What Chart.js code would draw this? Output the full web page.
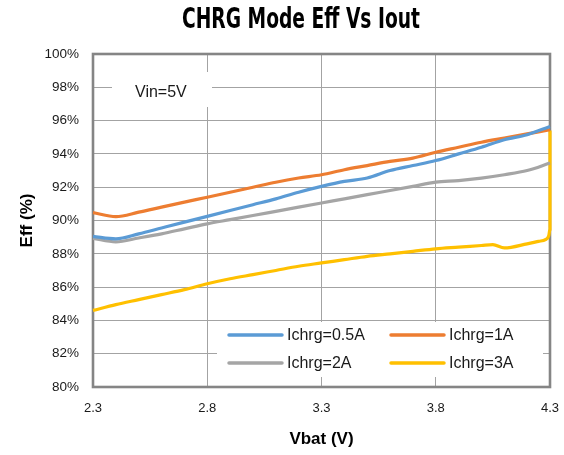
<!DOCTYPE html>
<html><head><meta charset="utf-8">
<script src="https://cdn.jsdelivr.net/npm/chart.js@4.4.1/dist/chart.umd.min.js"></script>
<style>html,body{margin:0;padding:0;background:#fff;overflow:hidden}#wrap{width:564px;height:455px;position:relative}</style>
</head><body><div id="wrap"><canvas id="c" width="564" height="455"></canvas></div>
<script>
const chartTitle = 'CHRG Mode Eff Vs Iout';
const xTitle = 'Vbat (V)';
const yTitle = 'Eff (%)';
const noteText = 'Vin=5V';
const seriesNames = ['Ichrg=0.5A', 'Ichrg=1A', 'Ichrg=2A', 'Ichrg=3A'];
const seriesColors = ['#5B9BD5', '#ED7D31', '#A5A5A5', '#FFC000'];
const xTicks = [2.3, 2.8, 3.3, 3.8, 4.3];

const vbat = [2.3, 2.4, 2.5, 2.6, 2.7, 2.8, 2.9, 3.0, 3.1, 3.2, 3.3, 3.4, 3.5, 3.6, 3.7, 3.8, 3.9, 4.0, 4.1, 4.2, 4.3];
const eff05 = [89.05, 88.9, 89.2, 89.55, 89.9, 90.25, 90.6, 90.95, 91.3, 91.7, 92.05, 92.35, 92.55, 93.0, 93.3, 93.6, 94.0, 94.4, 94.85, 95.15, 95.65];
const eff1 = [90.47, 90.23, 90.5, 90.8, 91.1, 91.4, 91.7, 92.0, 92.3, 92.55, 92.75, 93.05, 93.3, 93.55, 93.75, 94.1, 94.4, 94.7, 94.95, 95.2, 95.45];
const eff2 = [88.93, 88.72, 88.95, 89.2, 89.5, 89.8, 90.05, 90.3, 90.55, 90.8, 91.05, 91.3, 91.55, 91.8, 92.05, 92.3, 92.4, 92.55, 92.75, 93.0, 93.45];
const vbat3 = [2.3, 2.4, 2.5, 2.6, 2.7, 2.8, 2.9, 3.0, 3.1, 3.2, 3.3, 3.4, 3.5, 3.6, 3.7, 3.8, 3.9, 4.0, 4.05, 4.1, 4.2, 4.25, 4.28, 4.295, 4.3, 4.3];
const eff3 = [84.6, 84.95, 85.25, 85.55, 85.85, 86.2, 86.5, 86.75, 87.0, 87.25, 87.45, 87.65, 87.85, 88.0, 88.15, 88.3, 88.4, 88.5, 88.55, 88.35, 88.6, 88.75, 88.85, 89.1, 89.5, 95.4];

const toPts = (xs, ys) => xs.map((x, i) => ({x: x, y: ys[i]}));
const seriesData = [toPts(vbat, eff05), toPts(vbat, eff1), toPts(vbat, eff2), toPts(vbat3, eff3)];

const decor = {
  id: 'decor',
  beforeDatasetsDraw(chart) {
    const {ctx, chartArea: a} = chart;
    ctx.save();
    // plot border
    ctx.strokeStyle = '#858585';
    ctx.lineWidth = 2.6;
    ctx.strokeRect(a.left, a.top, a.right - a.left, a.bottom - a.top);
    // note box
    ctx.fillStyle = '#fff';
    ctx.fillRect(a.left + 19, a.top + 18, 100, 35);
    ctx.fillStyle = '#1a1a1a';
    ctx.font = '16px "Liberation Sans"';
    ctx.textBaseline = 'middle';
    ctx.textAlign = 'left';
    ctx.fillText(noteText, a.left + 42, a.top + 39);
    // legend
    const lx = a.left + 124, ly = a.top + 268;
    ctx.fillStyle = '#fff';
    ctx.fillRect(lx, ly, 326, 55);
    const cols = [12, 174], rows = [13, 41];
    chart.data.datasets.forEach((ds, i) => {
      const cx = lx + cols[i % 2], cy = ly + rows[Math.floor(i / 2)];
      ctx.strokeStyle = ds.borderColor;
      ctx.lineWidth = 3.5;
      ctx.lineCap = 'round';
      ctx.beginPath(); ctx.moveTo(cx, cy); ctx.lineTo(cx + 53, cy); ctx.stroke();
      ctx.fillStyle = '#1a1a1a';
      ctx.font = '16px "Liberation Sans"';
      ctx.fillText(ds.label, cx + 58, cy + 1);
    });
    ctx.restore();
  },
  afterDraw(chart) {
    const {ctx} = chart;
    ctx.save();
    ctx.fillStyle = '#000';
    ctx.font = 'bold 29px "DejaVu Sans Condensed", "DejaVu Sans", "Liberation Sans"';
    ctx.textAlign = 'center';
    ctx.textBaseline = 'middle';
    ctx.fillText(chartTitle, 301, 20, 238);
    ctx.restore();
  }
};

new Chart(document.getElementById('c'), {
  type: 'line',
  data: {
    datasets: seriesNames.map((n, i) => ({
      label: n,
      data: seriesData[i],
      borderColor: seriesColors[i],
      backgroundColor: seriesColors[i],
      borderWidth: 3.2,
      pointRadius: 0,
      tension: 0.3,
      cubicInterpolationMode: 'monotone',
      clip: 6,
      fill: false
    }))
  },
  options: {
    responsive: false,
    animation: false,
    devicePixelRatio: 1,
    layout: {padding: {top: 54, right: 14, bottom: 0, left: 0}},
    plugins: {legend: {display: false}, title: {display: false}, tooltip: {enabled: false}},
    scales: {
      x: {
        type: 'linear', min: 2.3, max: 4.3,
        afterBuildTicks: s => { s.ticks = xTicks.map(v => ({value: v})); },
        afterFit: s => { s.height = 68; s.paddingRight = 0; s.paddingLeft = 0; },
        grid: {color: '#a3a3a3', lineWidth: 1, drawTicks: false},
        border: {display: false},
        ticks: {padding: 14, color: '#1a1a1a', font: {family: 'Liberation Sans', size: 13}, callback: v => v.toFixed(1), maxRotation: 0},
        title: {display: true, text: xTitle, color: '#000', font: {family: 'Liberation Sans', size: 17, weight: 'bold'}, padding: {top: 0, bottom: 5}}
      },
      y: {
        min: 80, max: 100,
        afterFit: s => { s.width = 93; },
        grid: {color: '#a3a3a3', lineWidth: 1, drawTicks: false},
        border: {display: false},
        ticks: {stepSize: 2, padding: 14, color: '#1a1a1a', font: {family: 'Liberation Sans', size: 13.5}, callback: v => v + '%'},
        title: {display: true, text: yTitle, color: '#000', font: {family: 'Liberation Sans', size: 17, weight: 'bold'}, padding: {top: 17, bottom: 0}}
      }
    }
  },
  plugins: [decor]
});
</script></body></html>
